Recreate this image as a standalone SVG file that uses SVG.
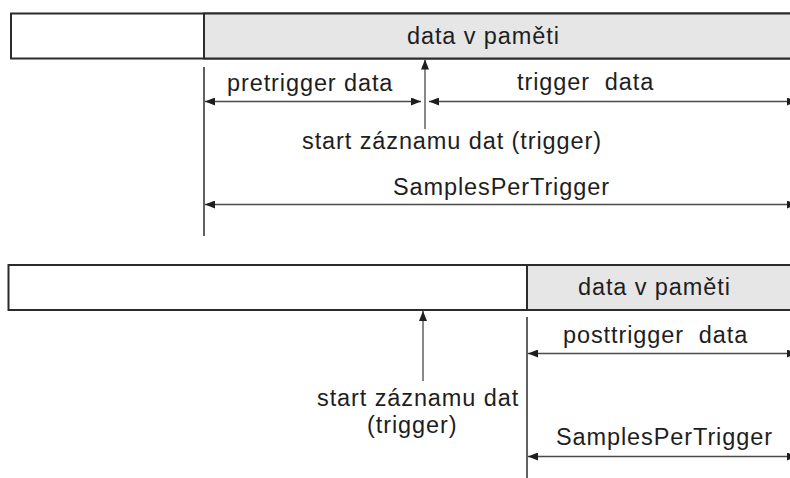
<svg xmlns="http://www.w3.org/2000/svg" width="790" height="478" viewBox="0 0 790 478">
  <style>
    .box { stroke: #2b2b2b; stroke-width: 2; }
    .empty { fill: #ffffff; }
    .mem { fill: #e6e6e7; }
    .lbl { font-family: "Liberation Sans", Arial, sans-serif; font-size: 23.5px; letter-spacing: 0.9px; fill: #1e1e1e; white-space: pre; }
    .dim { stroke: #4a4a4a; stroke-width: 1.3; fill: none; marker-start: url(#head); marker-end: url(#head); }
    .trig { stroke: #4a4a4a; stroke-width: 1.3; fill: none; marker-end: url(#head); }
    .ext { stroke: #1e1e1e; stroke-width: 1.4; }
  </style>
  <defs>
    <marker id="head" viewBox="0 0 10 8" refX="10" refY="4" markerWidth="10" markerHeight="8" markerUnits="userSpaceOnUse" orient="auto-start-reverse">
      <path d="M0,0 L10,4 L0,8 z" fill="#1e1e1e"/>
    </marker>
  </defs>
  <rect width="790" height="478" fill="#ffffff"/>

  <!-- upper buffer: pretrigger case -->
  <g id="buffer-pre">
    <rect class="box empty" x="11" y="13.5" width="800" height="45"/>
    <rect class="box mem" x="204" y="13.5" width="607" height="45"/>
    <text class="lbl" x="407" y="44">data v paměti</text>
  </g>

  <!-- lower buffer: posttrigger case -->
  <g id="buffer-post">
    <rect class="box empty" x="8.5" y="265" width="800" height="45"/>
    <rect class="box mem" x="527" y="265" width="284" height="45"/>
    <text class="lbl" x="578" y="295">data v paměti</text>
  </g>

  <!-- labels -->
  <g id="label-pretrigger"><text class="lbl" x="227" y="91">pretrigger data</text></g>
  <g id="label-trigger-data"><text class="lbl" x="517" y="90" xml:space="preserve">trigger  data</text></g>
  <g id="label-start-pre"><text class="lbl" x="302" y="149">start záznamu dat (trigger)</text></g>
  <g id="label-samples-pre"><text class="lbl" x="393" y="195">SamplesPerTrigger</text></g>
  <g id="label-start-post">
    <text class="lbl" x="317" y="406">start záznamu dat</text>
    <text class="lbl" x="367" y="433">(trigger)</text>
  </g>
  <g id="label-posttrigger"><text class="lbl" x="563" y="343" xml:space="preserve">posttrigger  data</text></g>
  <g id="label-samples-post"><text class="lbl" x="556" y="445">SamplesPerTrigger</text></g>

  <g id="connectors">
    <!-- extension lines -->
    <line class="ext" x1="204" y1="67" x2="204" y2="236"/>
    <line class="ext" x1="527" y1="317" x2="527" y2="478"/>
    <!-- trigger markers -->
    <line class="trig" x1="425" y1="129" x2="425" y2="59.5"/>
    <line class="trig" x1="423" y1="381" x2="423" y2="311"/>
    <!-- dimension arrows -->
    <line class="dim" x1="205" y1="101.5" x2="421" y2="101.5"/>
    <line class="dim" x1="429" y1="101.5" x2="797" y2="101.5"/>
    <line class="dim" x1="205" y1="204.5" x2="797" y2="204.5"/>
    <line class="dim" x1="528" y1="353.5" x2="797" y2="353.5"/>
    <line class="dim" x1="528" y1="456.5" x2="797" y2="456.5"/>
  </g>
</svg>
